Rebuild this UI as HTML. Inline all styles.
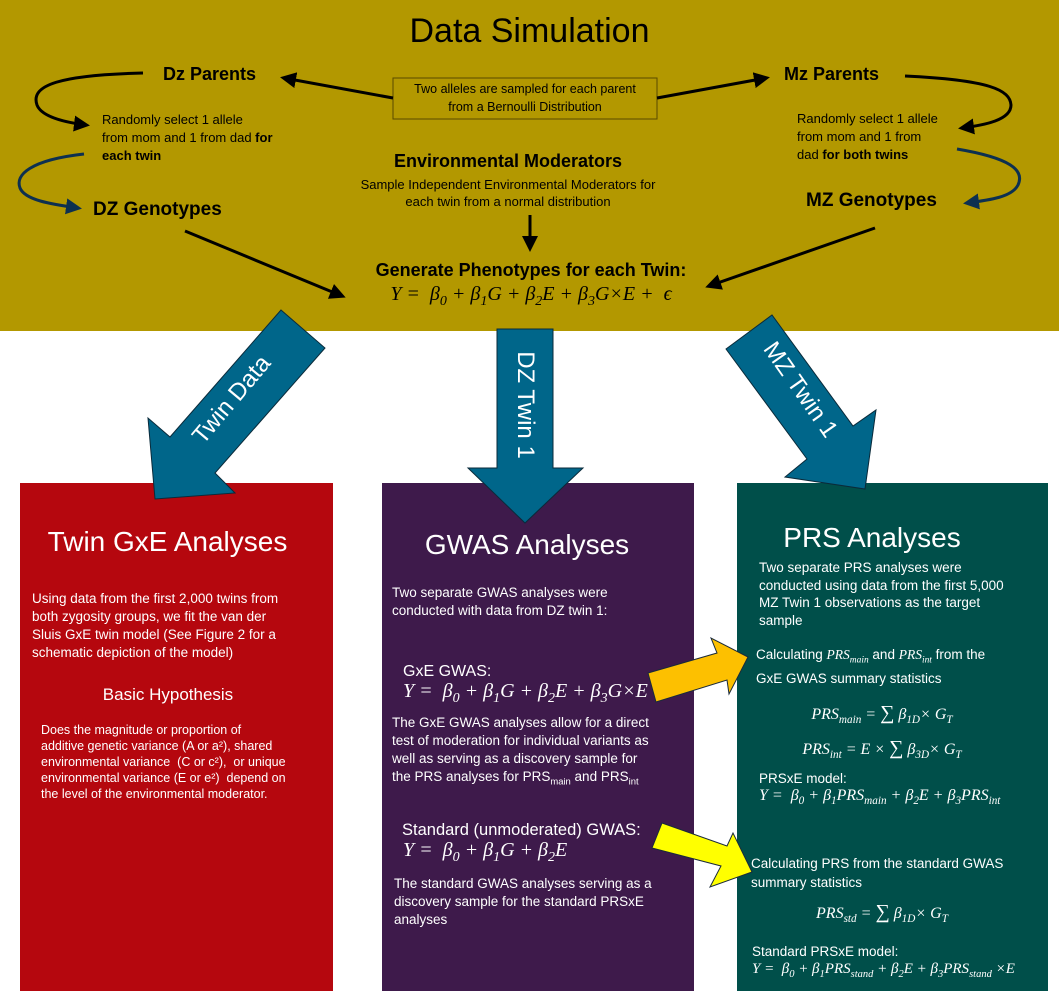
<!DOCTYPE html>
<html><head><meta charset="utf-8"><style>
body{margin:0;}
#c{position:relative;width:1059px;height:991px;background:#fff;overflow:hidden;font-family:"Liberation Sans",sans-serif;}
.a{position:absolute;white-space:nowrap;}
.w{color:#fff;}
.m{font-family:"Liberation Serif",serif;font-style:italic;}
.b{font-weight:bold;}
sub{font-size:70%;}
</style></head><body><div id="c">
<div class="a" style="left:0;top:0;width:1059px;height:331px;background:#b39800;"></div>
<div class="a" style="left:20px;top:483px;width:313px;height:508px;background:#b5070e;"></div>
<div class="a" style="left:382px;top:483px;width:312px;height:508px;background:#3e1a4b;"></div>
<div class="a" style="left:737px;top:483px;width:311px;height:508px;background:#004f4a;"></div>

<svg class="a" style="left:0;top:0" width="1059" height="991">
<defs>
<marker id="k" markerWidth="8" markerHeight="8" refX="6" refY="4" orient="auto" markerUnits="userSpaceOnUse"><path d="M0,0 L8,4 L0,8 z" fill="#000"/></marker>
<marker id="h" markerWidth="16" markerHeight="16" refX="12" refY="8" orient="auto" markerUnits="userSpaceOnUse"><path d="M0,0 L16,8 L0,16 z" fill="#000"/></marker>
<marker id="hb" markerWidth="16" markerHeight="16" refX="12" refY="8" orient="auto" markerUnits="userSpaceOnUse"><path d="M0,0 L16,8 L0,16 z" fill="#0d3050"/></marker>
</defs>
<rect x="393" y="78" width="264" height="41" fill="none" stroke="#5a4a00" stroke-width="1"/>
<line x1="393" y1="98" x2="284" y2="78" stroke="#000" stroke-width="3" marker-end="url(#h)"/>
<line x1="657" y1="98" x2="766" y2="78" stroke="#000" stroke-width="3" marker-end="url(#h)"/>
<path d="M143,73 C60,75 30,85 37,105 C42,118 70,123 86,125" fill="none" stroke="#000" stroke-width="3" marker-end="url(#h)"/>
<path d="M84,154 C30,160 15,175 20,188 C25,200 50,204 78,208" fill="none" stroke="#0d3050" stroke-width="3" marker-end="url(#hb)"/>
<path d="M905,76 C990,80 1010,90 1011,105 C1011,120 985,125 962,128" fill="none" stroke="#000" stroke-width="3" marker-end="url(#h)"/>
<path d="M957,149 C1010,158 1025,170 1018,185 C1012,197 990,200 967,203" fill="none" stroke="#0d3050" stroke-width="3" marker-end="url(#hb)"/>
<line x1="185" y1="231" x2="342" y2="296" stroke="#000" stroke-width="3" marker-end="url(#h)"/>
<line x1="875" y1="228" x2="709" y2="286" stroke="#000" stroke-width="3" marker-end="url(#h)"/>
<line x1="530" y1="215" x2="530" y2="248" stroke="#000" stroke-width="3" marker-end="url(#h)"/>
<g fill="#00668a" stroke="#0a2a3a" stroke-width="1">
<polygon points="281,310 325,348 215,473 235,493 155,499 148,418 170,437"/>
<polygon points="497,329 553,329 553,468 583,468 525,523 468,468 497,468"/>
<polygon points="726,349 772,315 853,426 876,410 865,489 785,477 807,459"/>
</g>
<polygon points="648,673 717,653 711,638 748,657 729,694 727,680 656,702" fill="#fdc000" stroke="#1a2a3a" stroke-width="1"/>
<polygon points="662,823 727,846 733,833 752,872 710,887 721,866 652,848" fill="#ffff00" stroke="#1a2a3a" stroke-width="1"/>
</svg>

<div class="a" style="left:0;width:1059px;text-align:center;top:12px;font-size:34px;">Data Simulation</div>
<div class="a b" style="left:163px;top:64px;font-size:18px;">Dz Parents</div>
<div class="a b" style="left:784px;top:64px;font-size:18px;">Mz Parents</div>
<div class="a" style="left:393px;width:264px;text-align:center;top:80px;font-size:12.5px;line-height:18px;">Two alleles are sampled for each parent<br>from a Bernoulli Distribution</div>
<div class="a" style="left:102px;top:111px;font-size:13px;line-height:18px;">Randomly select 1 allele<br>from mom and 1 from dad <b>for</b><br><b>each twin</b></div>
<div class="a" style="left:797px;top:110px;font-size:13px;line-height:18px;">Randomly select 1 allele<br>from mom and 1 from<br>dad <b>for both twins</b></div>
<div class="a b" style="left:93px;top:199px;font-size:19px;">DZ Genotypes</div>
<div class="a b" style="left:806px;top:190px;font-size:19px;">MZ Genotypes</div>
<div class="a b" style="left:308px;width:400px;text-align:center;top:151px;font-size:18px;">Environmental Moderators</div>
<div class="a" style="left:308px;width:400px;text-align:center;top:176px;font-size:13px;line-height:17px;">Sample Independent Environmental Moderators for<br>each twin from a normal distribution</div>
<div class="a b" style="left:300px;width:462px;text-align:center;top:260px;font-size:18px;">Generate Phenotypes for each Twin:</div>
<div class="a m" style="left:300px;width:462px;text-align:center;top:283px;font-size:20px;">Y = &nbsp;β<sub>0</sub> + β<sub>1</sub>G + β<sub>2</sub>E + β<sub>3</sub>G×E + &nbsp;ϵ</div>

<div class="a w" style="left:212px;top:395px;font-size:24px;transform:translate(-50%,-50%) rotate(-50deg);left:232px;top:400px;">Twin Data</div>
<div class="a w" style="left:525px;top:405px;font-size:24px;transform:translate(-50%,-50%) rotate(90deg);">DZ Twin 1</div>
<div class="a w" style="left:800px;top:390px;font-size:24px;transform:translate(-50%,-50%) rotate(55deg);">MZ Twin 1</div>

<div class="a w" style="left:20px;width:295px;text-align:center;top:526px;font-size:28px;">Twin GxE Analyses</div>
<div class="a w" style="left:32px;top:590px;font-size:13.5px;line-height:18px;">Using data from the first 2,000 twins from<br>both zygosity groups, we fit the van der<br>Sluis GxE twin model (See Figure 2 for a<br>schematic depiction of the model)</div>
<div class="a w" style="left:20px;width:296px;text-align:center;top:685px;font-size:17px;">Basic Hypothesis</div>
<div class="a w" style="left:41px;top:722px;font-size:12.5px;line-height:16px;">Does the magnitude or proportion of<br>additive genetic variance (A or a²), shared<br>environmental variance &nbsp;(C or c²), &nbsp;or unique<br>environmental variance (E or e²) &nbsp;depend on<br>the level of the environmental moderator.</div>

<div class="a w" style="left:382px;width:290px;text-align:center;top:529px;font-size:28px;">GWAS Analyses</div>
<div class="a w" style="left:392px;top:584px;font-size:13.5px;line-height:18px;">Two separate GWAS analyses were<br>conducted with data from DZ twin 1:</div>
<div class="a w" style="left:403px;top:663px;font-size:16px;">GxE GWAS:</div>
<div class="a w m" style="left:403px;top:680px;font-size:20px;">Y = &nbsp;β<sub>0</sub> + β<sub>1</sub>G + β<sub>2</sub>E + β<sub>3</sub>G×E</div>
<div class="a w" style="left:392px;top:714px;font-size:13.5px;line-height:18px;">The GxE GWAS analyses allow for a direct<br>test of moderation for individual variants as<br>well as serving as a discovery sample for<br>the PRS analyses for PRS<sub>main</sub> and PRS<sub>int</sub></div>
<div class="a w" style="left:402px;top:821px;font-size:16.5px;">Standard (unmoderated) GWAS:</div>
<div class="a w m" style="left:403px;top:839px;font-size:20px;">Y = &nbsp;β<sub>0</sub> + β<sub>1</sub>G + β<sub>2</sub>E</div>
<div class="a w" style="left:394px;top:875px;font-size:13.5px;line-height:18px;">The standard GWAS analyses serving as a<br>discovery sample for the standard PRSxE<br>analyses</div>

<div class="a w" style="left:737px;width:270px;text-align:center;top:522px;font-size:28px;">PRS Analyses</div>
<div class="a w" style="left:759px;top:559px;font-size:13.5px;line-height:17.7px;">Two separate PRS analyses were<br>conducted using data from the first 5,000<br>MZ Twin 1 observations as the target<br>sample</div>
<div class="a w" style="left:756px;top:646px;font-size:13.5px;line-height:18px;">Calculating <span class="m">PRS<sub>main</sub></span> and <span class="m">PRS<sub>int</sub></span> from the<br>GxE GWAS summary statistics</div>
<div class="a w m" style="left:737px;width:290px;text-align:center;top:702px;font-size:16px;">PRS<sub>main</sub> = <span style="font-style:normal;font-size:20px">∑</span> β<sub>1D</sub>× G<sub>T</sub></div>
<div class="a w m" style="left:737px;width:290px;text-align:center;top:737px;font-size:16px;">PRS<sub>int</sub> = E × <span style="font-style:normal;font-size:20px">∑</span> β<sub>3D</sub>× G<sub>T</sub></div>
<div class="a w" style="left:759px;top:771px;font-size:13.5px;">PRSxE model:</div>
<div class="a w m" style="left:759px;top:787px;font-size:16px;">Y = &nbsp;β<sub>0</sub> + β<sub>1</sub>PRS<sub>main</sub> + β<sub>2</sub>E + β<sub>3</sub>PRS<sub>int</sub></div>
<div class="a w" style="left:751px;top:854px;font-size:13.5px;line-height:19px;">Calculating PRS from the standard GWAS<br>summary statistics</div>
<div class="a w m" style="left:737px;width:290px;text-align:center;top:901px;font-size:16px;">PRS<sub>std</sub> = <span style="font-style:normal;font-size:20px">∑</span> β<sub>1D</sub>× G<sub>T</sub></div>
<div class="a w" style="left:752px;top:944px;font-size:13.5px;">Standard PRSxE model:</div>
<div class="a w m" style="left:752px;top:961px;font-size:15px;">Y = &nbsp;β<sub>0</sub> + β<sub>1</sub>PRS<sub>stand</sub> + β<sub>2</sub>E + β<sub>3</sub>PRS<sub>stand</sub> ×E</div>
</div></body></html>
